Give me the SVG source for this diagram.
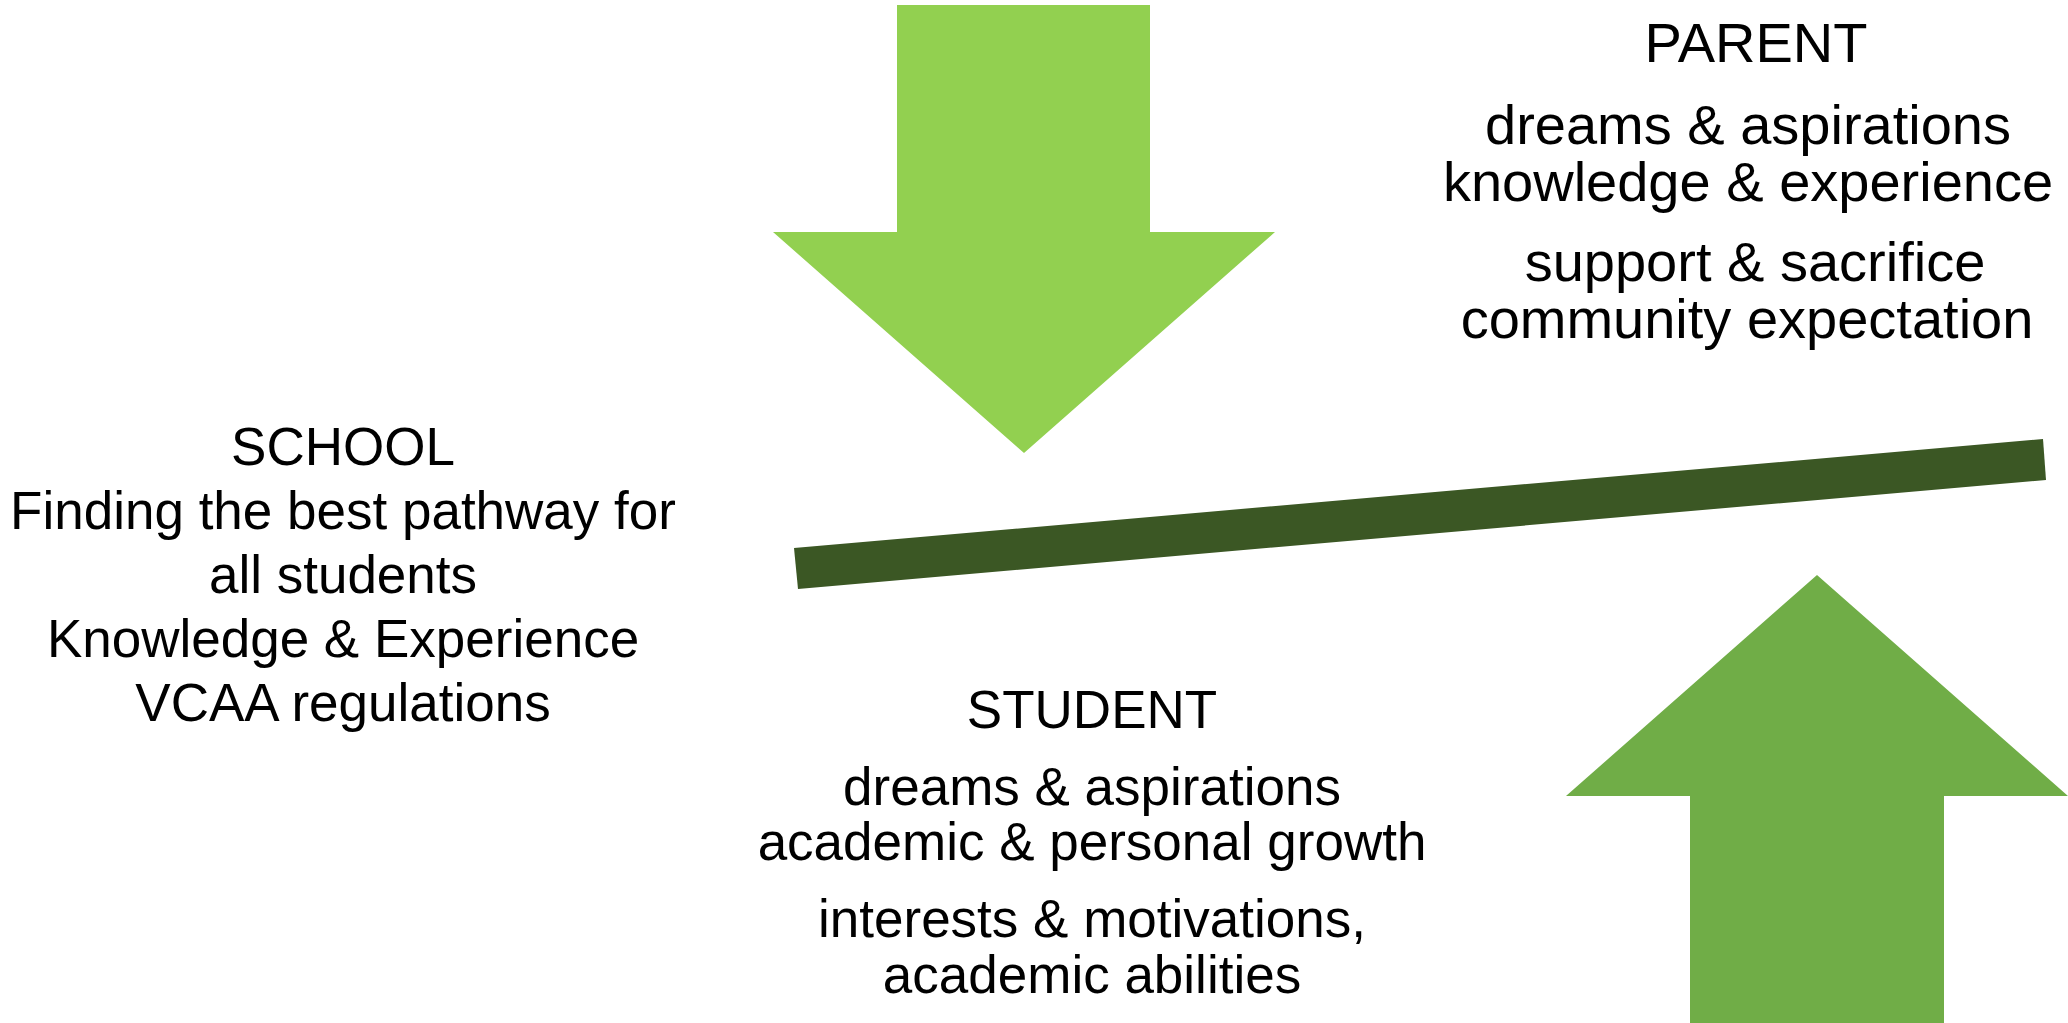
<svg xmlns="http://www.w3.org/2000/svg" width="2068" height="1023" viewBox="0 0 2068 1023">
<style>
text{font-family:"Liberation Sans",Arial,sans-serif;fill:#000;text-anchor:middle}
.s{font-size:53px}
.p{font-size:56px}
</style>
<rect width="2068" height="1023" fill="#fff"/>
<g id="connectors">
<polygon id="arrow-down" points="897,5 1150,5 1150,232 1275,232 1024,453 773,232 897,232" fill="#92D050"/>
<polygon id="arrow-up" points="1817,575 2068,796 1944,796 1944,1023 1690,1023 1690,796 1566,796" fill="#70AD47"/>
<polygon id="beam" points="794,548 2043,439 2046,480 798,589" fill="#3B5724"/>
</g>
<g id="school">
<text class="s" x="343" y="465">SCHOOL</text>
<text class="s" x="343" y="529">Finding the best pathway for</text>
<text class="s" x="343" y="593">all students</text>
<text class="s" x="343" y="657">Knowledge &amp; Experience</text>
<text class="s" x="343" y="721">VCAA regulations</text>
</g>
<g id="student">
<text class="s" x="1092" y="728">STUDENT</text>
<text class="s" x="1092" y="805">dreams &amp; aspirations</text>
<text class="s" x="1092" y="860">academic &amp; personal growth</text>
<text class="s" x="1092" y="937">interests &amp; motivations,</text>
<text class="s" x="1092" y="993">academic abilities</text>
</g>
<g id="parent">
<text class="p" x="1756" y="62">PARENT</text>
<text class="p" x="1748" y="144">dreams &amp; aspirations</text>
<text class="p" x="1748" y="201">knowledge &amp; experience</text>
<text class="p" x="1755" y="281">support &amp; sacrifice</text>
<text class="p" x="1747" y="338">community expectation</text>
</g>
</svg>
